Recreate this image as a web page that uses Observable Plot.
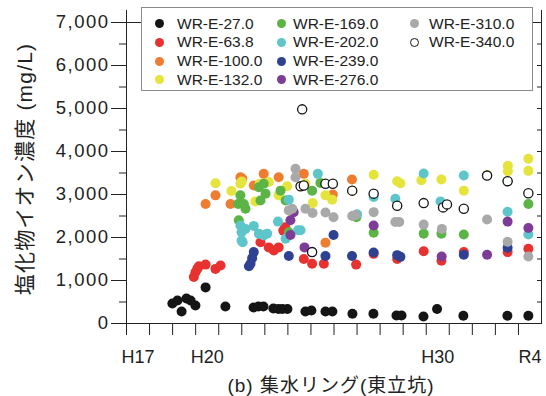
<!DOCTYPE html>
<html>
<head>
<meta charset="utf-8">
<script src="https://cdn.jsdelivr.net/npm/d3@7"></script>
<script src="https://cdn.jsdelivr.net/npm/@observablehq/plot@0.6"></script>
<style>
  html, body { margin: 0; padding: 0; background: #fff; }
  #wrap { position: relative; width: 546px; height: 396px; font-family: "Liberation Sans", "Noto Sans CJK JP", sans-serif; color: #222; }
  #legend { position: absolute; left: 141px; top: 7px; width: 392px; height: 84px; border: 1px solid #8a8a8a; background: #fff; box-sizing: border-box; }
  .li { position: absolute; font-size: 15.5px; line-height: 1; white-space: nowrap; }
  .mk { position: absolute; width: 9px; height: 9px; border-radius: 50%; box-sizing: border-box; }
</style>
</head>
<body>
<div id="wrap"></div>
<script>
// ---- data ----
const seriesNames = ["WR-E-27.0","WR-E-63.8","WR-E-100.0","WR-E-132.0","WR-E-169.0","WR-E-202.0","WR-E-239.0","WR-E-276.0","WR-E-310.0","WR-E-340.0"];
const seriesColors = ["#151515","#e8322f","#ef7d31","#e4e43c","#5cb446","#5ec6ca","#2f4191","#7d3c96","#a9a9a9","#ffffff"];

const wr27 = [[2006.99,465],[2007.21,535],[2007.39,280],[2007.60,580],[2007.78,535],[2007.99,420],[2008.43,840],[2009.29,395],[2010.51,372],[2010.72,395],[2010.94,395],[2011.37,349],[2011.59,337],[2011.76,337],[2011.98,337],[2012.76,280],[2013.02,302],[2013.63,280],[2013.93,280],[2014.8,226],[2015.71,226],[2016.71,186],[2016.93,186],[2017.88,163],[2018.47,337],[2019.61,179],[2021.52,179],[2022.43,179]];
const wr63 = [[2007.92,1080],[2007.99,1190],[2008.07,1270],[2008.14,1330],[2008.43,1370],[2008.86,1270],[2009.08,1350],[2010.81,1890],[2011.17,1770],[2011.39,1700],[2011.6,1770],[2011.8,2160],[2011.88,2240],[2012.69,1500],[2013.05,1390],[2013.56,1390],[2014.96,1370],[2015.72,1620],[2016.74,1500],[2017.89,1680],[2018.66,1460],[2019.63,1660],[2021.53,1660],[2022.43,1740]];
const wr100 = [[2008.43,2780],[2008.86,2980],[2009.51,2780],[2009.94,3400],[2010.02,3370],[2010.52,3210],[2010.95,3480],[2011.6,3400],[2012.69,3480],[2013.63,1880],[2013.95,3000],[2014.78,3350]];
const wr132 = [[2008.86,3260],[2009.55,3080],[2009.94,3250],[2010.0,3300],[2010.59,2840],[2010.78,3250],[2011.17,3290],[2011.6,2980],[2011.97,3190],[2012.76,3250],[2013.08,2800],[2013.63,2980],[2013.92,2880],[2014.79,3090],[2015.72,3460],[2016.74,3310],[2016.88,3260],[2017.79,3330],[2018.66,3350],[2019.63,3090],[2020.64,3450],[2021.54,3670],[2021.54,3540],[2022.43,3830],[2022.43,3550]];
const wr169 = [[2009.84,2780],[2009.87,2400],[2009.94,2980],[2010.09,2780],[2010.16,2670],[2010.74,3170],[2010.81,2860],[2010.95,3250],[2011.03,3020],[2011.68,3090],[2011.9,2860],[2012.04,2120],[2013.05,3090],[2013.41,3270],[2014.97,2470],[2015.72,2110],[2017.89,2090],[2018.66,2090],[2019.63,2070],[2021.53,3310],[2022.43,2780]];
const wr202 = [[2009.94,2280],[2009.99,2120],[2009.99,1930],[2010.04,1890],[2010.16,2200],[2010.52,2270],[2010.74,2090],[2010.95,2050],[2011.1,2090],[2011.57,2370],[2011.9,1970],[2012.04,2880],[2012.44,2170],[2012.55,2170],[2013.3,3480],[2015.0,2540],[2015.72,2940],[2016.66,2900],[2017.89,3490],[2018.62,2840],[2019.63,3440],[2021.53,2600],[2022.43,2070]];
const wr239 = [[2010.31,1330],[2010.38,1390],[2010.45,1520],[2010.52,1660],[2012.04,1570],[2013.05,1660],[2013.63,1570],[2013.98,2060],[2014.78,1570],[2015.72,1650],[2016.74,1590],[2016.88,1550],[2019.63,1600],[2021.53,1760]];
const wr276 = [[2012.11,2060],[2012.11,2400],[2012.25,2590],[2012.72,1770],[2015.72,2280],[2018.67,1560],[2020.64,1600],[2021.53,2370],[2022.43,2220]];
const wr310 = [[2012.04,2630],[2012.19,2670],[2012.33,3600],[2012.33,3400],[2012.76,2670],[2013.07,2570],[2013.63,2580],[2013.98,2470],[2014.79,2500],[2014.92,2520],[2015.72,2590],[2016.66,2360],[2016.83,2360],[2017.89,2300],[2018.68,2200],[2020.64,2420],[2021.53,1900],[2022.43,1560]];
const wr340 = [[2012.55,3190],[2012.62,4980],[2012.69,3210],[2013.05,1660],[2013.63,3250],[2013.95,3250],[2014.79,3090],[2015.72,3020],[2016.74,2740],[2017.89,2800],[2018.73,2700],[2018.9,2770],[2019.63,2670],[2020.64,3440],[2021.53,3310],[2022.43,3030]];
const seriesData = [wr27, wr63, wr100, wr132, wr169, wr202, wr239, wr276, wr310, wr340];

const yMajorTicks = [0,1000,2000,3000,4000,5000,6000,7000];
const yMinorTicks = [500,1500,2500,3500,4500,5500,6500];
const yearTicks = d3.range(2005, 2023);
const xLabelYears = [2005, 2008, 2018, 2022];
const xLabels = ["H17","H20","H30","R4"];
const yTitle = "塩化物イオン濃度 (mg/L)";
const xTitle = "(b) 集水リング(東立坑)";

// ---- build ----
const rows = seriesNames.flatMap((name, i) => seriesData[i].map(([t, v]) => ({name, t, v})));
const filled = rows.filter(d => d.name !== "WR-E-340.0");
const open = rows.filter(d => d.name === "WR-E-340.0");
const labelMap = new Map(xLabelYears.map((y, i) => [y + 0.5, xLabels[i]]));
const allHalf = d3.range(500, 7000, 500);

const chart = Plot.plot({
  width: 546,
  height: 396,
  marginLeft: 126,
  marginRight: 5,
  marginTop: 22,
  marginBottom: 73,
  style: {fontFamily: '"Liberation Sans", "Noto Sans CJK JP", sans-serif', color: "#222", background: "#fff", overflow: "visible"},
  x: {domain: [2005, 2023], axis: null},
  y: {domain: [0, 7000], axis: null},
  color: {domain: seriesNames, range: seriesColors},
  marks: [
    Plot.frame({stroke: "#222"}),
    Plot.ruleX([2005, 2023], {y1: 7000, y2: 7280, stroke: "#222"}),
    Plot.axisY({ticks: yMajorTicks, tickSize: 15, tickPadding: 2, tickFormat: d3.format(","), fontSize: 18.5, label: null, stroke: "#222"}),
    Plot.axisY({ticks: yMinorTicks, tickSize: 7, tickFormat: () => "", label: null, stroke: "#222"}),
    Plot.axisY({anchor: "right", ticks: allHalf, tickSize: 5, dx: -5, tickFormat: () => "", label: null, stroke: "#222"}),
    Plot.axisX({ticks: yearTicks, tickSize: 12, tickFormat: () => "", label: null, stroke: "#222"}),
    Plot.axisX({ticks: [...labelMap.keys()], tickSize: 0, tickPadding: 27, tickFormat: d => labelMap.get(d), fontSize: 18, label: null}),
    Plot.text([yTitle], {frameAnchor: "left", dx: -101, dy: -4, rotate: -90, fontSize: 21, textAnchor: "middle", lineAnchor: "middle", fill: "#222"}),
    Plot.text([xTitle], {frameAnchor: "bottom", dy: 62, dx: -3, fontSize: 19, textAnchor: "middle", lineAnchor: "middle", fill: "#222"}),
    Plot.dot(filled, {x: "t", y: "v", fill: "name", r: 5, stroke: null}),
    Plot.dot(open, {x: "t", y: "v", fill: "#fff", stroke: "#151515", strokeWidth: 1.3, r: 4.6})
  ]
});

// widen some texts to match the reference's proportions
d3.select(chart).selectAll("text").each(function() {
  const t = this.textContent;
  if (t === yTitle) this.style.letterSpacing = "1.2px";
  else if (t === xTitle) this.style.letterSpacing = "1px";
  else if (/^[0-9,]+$/.test(t)) this.style.letterSpacing = "1.5px";
});

const wrap = document.getElementById("wrap");
wrap.appendChild(chart);

// legend (column-major, 4 rows)
const legend = document.createElement("div");
legend.id = "legend";
const rowY = [15.7, 34.3, 53, 71.8];
const colMarker = [17, 139, 272];
const colText = [35, 151, 287];
seriesNames.forEach((name, i) => {
  const col = Math.floor(i / 4), row = i % 4;
  const mk = document.createElement("div");
  mk.className = "mk";
  mk.style.left = (colMarker[col] - 4.5) + "px";
  mk.style.top = (rowY[row] - 4.5) + "px";
  if (name === "WR-E-340.0") {
    mk.style.background = "#fff";
    mk.style.border = "1.3px solid #151515";
  } else {
    mk.style.background = seriesColors[i];
  }
  legend.appendChild(mk);
  const tx = document.createElement("div");
  tx.className = "li";
  tx.textContent = name;
  tx.style.left = colText[col] + "px";
  tx.style.top = (rowY[row] - 8) + "px";
  legend.appendChild(tx);
});
wrap.appendChild(legend);
</script>
</body>
</html>
